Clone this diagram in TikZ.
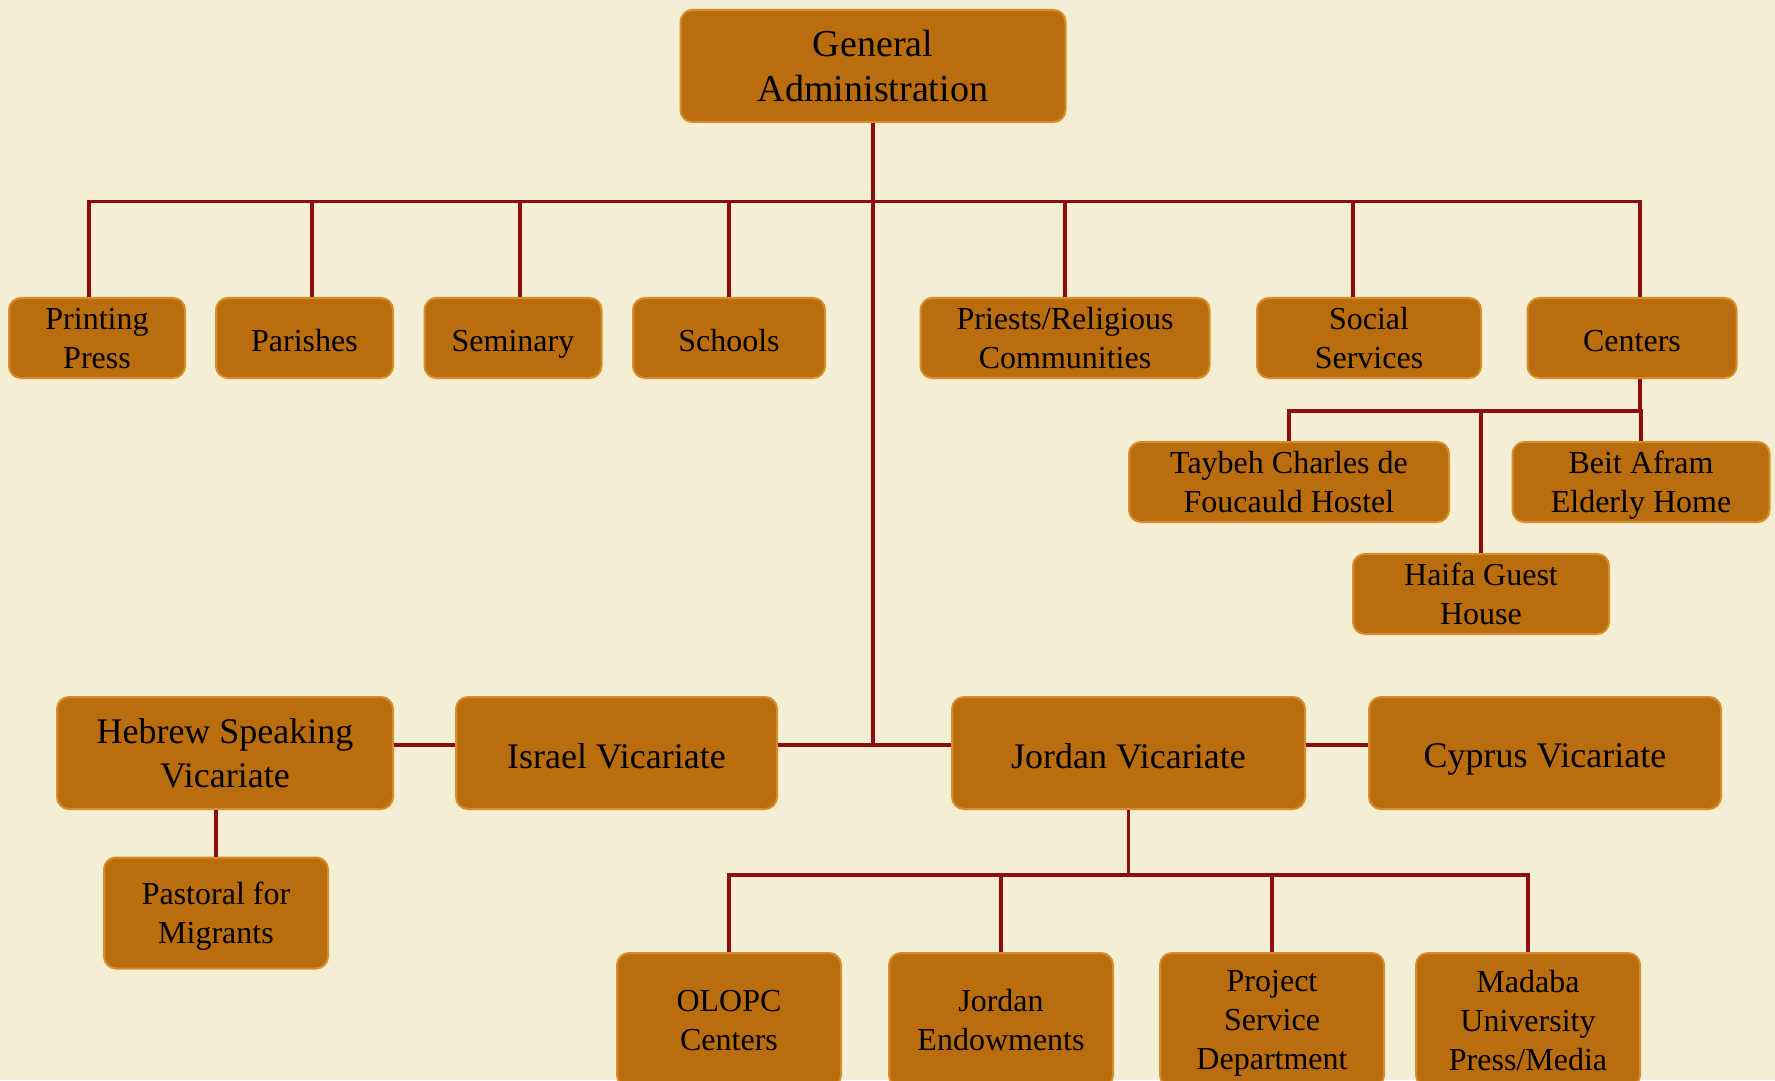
\documentclass[tikz,border=0pt]{standalone}
\usepackage{fontspec}
\setmainfont{Liberation Serif}

\definecolor{paper}{RGB}{243,238,212}
\definecolor{boxfill}{RGB}{186,109,14}
\definecolor{boxedge}{RGB}{214,142,42}
\definecolor{linkred}{RGB}{140,14,14}

\newcommand\boxstrut{\rule[-0.15\baselineskip]{0pt}{\baselineskip}}

\tikzset{
  unit/.style={draw=boxedge, fill=boxfill, line width=1pt, rounded corners=6pt,
    align=center, inner sep=0pt, text=black,
    execute at begin node=\boxstrut, execute at end node=\boxstrut,
    font=\fontsize{16}{19.5}\selectfont},
  stack/.style={text depth=0pt},
  vicar/.style={unit, font=\fontsize{18}{22}\selectfont},
  link/.style={draw=linkred, line width=1.8pt}
}

\begin{document}
\begin{tikzpicture}[x=0.5pt, y=-0.5pt]
  % page and paper
  \useasboundingbox (0,0) rectangle (1775,1080);
  \clip (0,0) rectangle (1775,1080);
  \fill[paper] (0,0) rectangle (1775,1080);

  % Top
  \node[unit, stack, font=\fontsize{19}{22.5}\selectfont, minimum width=192.5pt, minimum height=56pt] (ga) at (873,66) {General\\Administration};

  % First row
  \node[unit, stack, minimum width=88pt, minimum height=40pt] (pp) at (97,338) {Printing\\Press};
  \node[unit, minimum width=88.5pt, minimum height=40pt] (par) at (304.5,338) {Parishes};
  \node[unit, minimum width=88.5pt, minimum height=40pt] (sem) at (513,338) {Seminary};
  \node[unit, minimum width=96pt, minimum height=40pt] (sch) at (729,338) {Schools};
  \node[unit, stack, minimum width=144.5pt, minimum height=40pt] (pri) at (1065,338) {Priests/Religious\\Communities};
  \node[unit, stack, minimum width=112pt, minimum height=40pt] (soc) at (1369,338) {Social\\Services};
  \node[unit, minimum width=104.5pt, minimum height=40pt] (cen) at (1632,338) {Centers};

  % Centers
  \node[unit, stack, minimum width=160pt, minimum height=40pt] (tay) at (1289,482) {Taybeh Charles de\\Foucauld Hostel};
  \node[unit, stack, minimum width=128.5pt, minimum height=40pt] (bei) at (1641,482) {Beit Afram\\Elderly Home};
  \node[unit, stack, minimum width=128pt, minimum height=40pt] (hai) at (1481,594) {Haifa Guest\\House};

  % Vicariates
  \node[vicar, stack, minimum width=168pt, minimum height=56pt] (heb) at (225,753) {Hebrew Speaking\\Vicariate};
  \node[vicar, minimum width=160.5pt, minimum height=56pt] (isr) at (616.5,753) {Israel Vicariate};
  \node[vicar, minimum width=176.5pt, minimum height=56pt] (jor) at (1128.5,753) {Jordan Vicariate};
  \node[vicar, minimum width=176pt, minimum height=56pt] (cyp) at (1545,753) {Cyprus Vicariate};

  \node[unit, stack, minimum width=112pt, minimum height=55.5pt] (pas) at (216,913) {Pastoral for\\Migrants};

  % Jordan
  \node[unit, stack, minimum width=112pt, minimum height=67pt] (olo) at (729,1020) {OLOPC\\Centers};
  \node[unit, stack, minimum width=112pt, minimum height=67pt] (end) at (1001,1020) {Jordan\\Endowments};
  \node[unit, stack, minimum width=112pt, minimum height=67pt] (pro) at (1272,1020) {Project\\Service\\Department};
  \node[unit, stack, minimum width=112pt, minimum height=67pt] (mad) at (1528,1020) {Madaba\\University\\Press/Media};

  % Connectors
  \coordinate (bus) at (873,201.5);
  \coordinate (vic) at (873,745);
  \draw[link] (ga.south) -- (vic);
  \foreach \n/\dx in {pp/-4pt,par/3.75pt,sem/3.5pt,sch/0pt,pri/0pt,soc/-8pt,cen/4pt}
    \draw[link] (bus) -| ([xshift=\dx]\n.north);

  \draw[link] ([xshift=4pt]cen.south) -- ++(0,32) coordinate (cbus);
  \foreach \n in {tay,bei,hai}
    \draw[link] (cbus) -| (\n.north);

  \draw[link] (heb.east |- vic) -- (isr.west |- vic);
  \draw[link] (isr.east |- vic) -- (jor.west |- vic);
  \draw[link] (jor.east |- vic) -- (cyp.west |- vic);
  \draw[link] (pas.north) -- (pas.north |- heb.south);

  \draw[link] (jor.south) -- ++(0,65) coordinate (jbus);
  \foreach \n in {olo,end,pro,mad}
    \draw[link] (jbus) -| (\n.north);
\end{tikzpicture}
\end{document}
